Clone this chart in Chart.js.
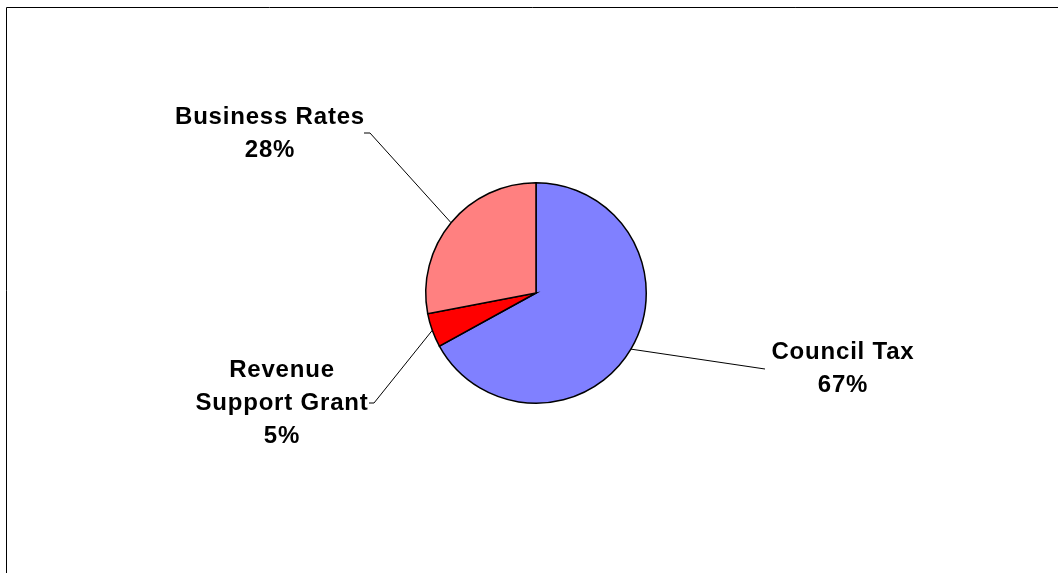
<!DOCTYPE html>
<html>
<head>
<meta charset="utf-8">
<title>Income sources</title>
<script src="https://cdn.jsdelivr.net/npm/chart.js@4/dist/chart.umd.min.js"></script>
<style>
  html, body { margin: 0; padding: 0; background: #ffffff; }
  #wrap { position: relative; width: 1058px; height: 573px; }
</style>
</head>
<body>
<div id="wrap"><canvas id="pie" width="1058" height="573"></canvas></div>
<script>
// Funding sources and their shares
const categories = ['Council Tax', 'Revenue Support Grant', 'Business Rates'];
const shares = [67, 5, 28];
const sliceColours = ['#8080FF', '#FF0000', '#FF8080'];

// Label text blocks: name lines, placed beside the pie with a leader line
const labelLines = [
  ['Council Tax'],
  ['Revenue', 'Support Grant'],
  ['Business Rates']
];
const labelPlacement = [
  { x: 843, y: 359, lead: [[765, 369]] },
  { x: 282, y: 377, lead: [[374, 403], [369, 403]] },
  { x: 270, y: 124, lead: [[370, 133], [364, 133]] }
];

const frameAndLabels = {
  id: 'frameAndLabels',
  afterDraw(chart) {
    const ctx = chart.ctx;
    ctx.save();
    // outer frame (open to the right and bottom)
    ctx.strokeStyle = '#000000';
    ctx.lineWidth = 1;
    ctx.beginPath();
    ctx.moveTo(6.5, 600);
    ctx.lineTo(6.5, 7.5);
    ctx.lineTo(1100, 7.5);
    ctx.stroke();

    const meta = chart.getDatasetMeta(0);
    const values = chart.data.datasets[0].data;
    const total = values.reduce((a, b) => a + b, 0);
    meta.data.forEach((arc, i) => {
      const p = arc.getProps(['x', 'y', 'startAngle', 'endAngle', 'outerRadius'], true);
      const mid = (p.startAngle + p.endAngle) / 2;
      const ex = p.x + Math.cos(mid) * p.outerRadius;
      const ey = p.y + Math.sin(mid) * p.outerRadius;
      const place = labelPlacement[i];
      // leader line
      ctx.strokeStyle = '#000000';
      ctx.lineWidth = 1;
      ctx.beginPath();
      ctx.moveTo(ex, ey);
      place.lead.forEach(pt => ctx.lineTo(pt[0], pt[1]));
      ctx.stroke();
      // label text
      const lines = labelLines[i].concat([Math.round(values[i] / total * 100) + '%']);
      ctx.fillStyle = '#000000';
      ctx.font = 'bold 24px "Liberation Sans", Arial, sans-serif';
      ctx.letterSpacing = '0.8px';
      ctx.textAlign = 'center';
      ctx.textBaseline = 'alphabetic';
      lines.forEach((t, k) => ctx.fillText(t, place.x, place.y + k * 33));
    });
    ctx.restore();
  }
};

new Chart(document.getElementById('pie'), {
  type: 'pie',
  data: {
    labels: categories,
    datasets: [{
      data: shares,
      backgroundColor: sliceColours,
      borderColor: '#000000',
      borderWidth: 1.5,
      borderJoinStyle: 'miter'
    }]
  },
  options: {
    responsive: false,
    animation: false,
    events: [],
    layout: { padding: { left: 425, right: 411, top: 182, bottom: 169 } },
    plugins: {
      legend: { display: false },
      tooltip: { enabled: false },
      title: { display: false }
    }
  },
  plugins: [frameAndLabels]
});
</script>
</body>
</html>
